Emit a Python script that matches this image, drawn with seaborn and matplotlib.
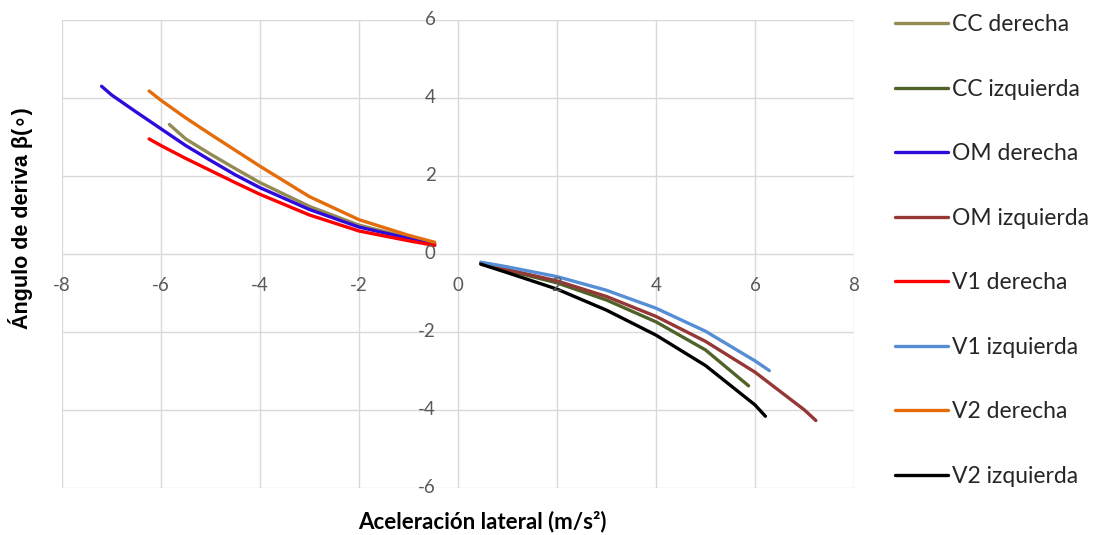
import pandas as pd
import matplotlib.pyplot as plt
import seaborn as sns
from matplotlib.lines import Line2D

# Series (lateral accel m/s^2 vs drift angle deg)
cc_der_x = [-5.83, -5.5, -5, -4.5, -4, -3, -2, -1, -0.47]
cc_der_y = [3.32, 2.95, 2.56, 2.19, 1.83, 1.22, 0.74, 0.42, 0.26]
cc_izq_x = [0.46, 1, 2, 3, 4, 5, 5.87]
cc_izq_y = [-0.24, -0.42, -0.74, -1.18, -1.74, -2.46, -3.38]
om_der_x = [-7.2, -7, -6.5, -6, -5.5, -5, -4.5, -4, -3, -2, -1, -0.47]
om_der_y = [4.30, 4.08, 3.64, 3.21, 2.78, 2.40, 2.03, 1.70, 1.14, 0.69, 0.40, 0.24]
om_izq_x = [0.46, 1, 2, 3, 4, 5, 6, 7, 7.23]
om_izq_y = [-0.23, -0.40, -0.69, -1.09, -1.60, -2.24, -3.03, -4.00, -4.27]
v1_der_x = [-6.24, -6, -5.5, -5, -4.5, -4, -3, -2, -1, -0.47]
v1_der_y = [2.95, 2.78, 2.45, 2.14, 1.83, 1.53, 1.00, 0.59, 0.34, 0.22]
v1_izq_x = [0.46, 1, 2, 3, 4, 5, 6, 6.29]
v1_izq_y = [-0.21, -0.33, -0.58, -0.93, -1.39, -1.98, -2.74, -2.99]
v2_der_x = [-6.24, -6, -5.5, -5, -4.5, -4, -3, -2, -1, -0.47]
v2_der_y = [4.18, 3.94, 3.49, 3.07, 2.66, 2.25, 1.47, 0.88, 0.48, 0.30]
v2_izq_x = [0.46, 1, 2, 3, 4, 5, 6, 6.21]
v2_izq_y = [-0.26, -0.48, -0.90, -1.44, -2.08, -2.86, -3.87, -4.16]

series = ["CC derecha", "CC izquierda", "OM derecha", "OM izquierda",
          "V1 derecha", "V1 izquierda", "V2 derecha", "V2 izquierda"]
xs = [cc_der_x, cc_izq_x, om_der_x, om_izq_x, v1_der_x, v1_izq_x, v2_der_x, v2_izq_x]
ys = [cc_der_y, cc_izq_y, om_der_y, om_izq_y, v1_der_y, v1_izq_y, v2_der_y, v2_izq_y]
colors = ["#948A54", "#4F6228", "#2E0BDB", "#953735",
          "#FF0000", "#558ED5", "#E46C0A", "#000000"]

rows = []
for name, x, y in zip(series, xs, ys):
    for a, b in zip(x, y):
        rows.append({"serie": name, "acel": a, "beta": b})
df = pd.DataFrame(rows)

sns.set_style("white")
plt.rcParams['font.family'] = ['Lato', 'DejaVu Sans']

fig = plt.figure(figsize=(11.02, 5.35), dpi=100)
ax = fig.add_axes([62/1102, 1-488/535, (854-62)/1102, (488-20)/535])

sns.lineplot(data=df, x="acel", y="beta", hue="serie", hue_order=series,
             palette=dict(zip(series, colors)), sort=False, linewidth=2.4,
             estimator=None, ax=ax, legend=False)

ax.set_xlim(-8, 8)
ax.set_ylim(-6, 6)
ax.set_xticks(range(-8, 9, 2))
ax.set_yticks(range(-6, 7, 2))
ax.grid(True, color="#d9d9d9", linewidth=1)
for s in ax.spines.values():
    s.set_visible(False)

ax.tick_params(length=0)
# tick labels sit next to the centered axes, Excel style
ax.set_xticklabels([])
ax.set_yticklabels([])
for v in range(-8, 9, 2):
    ax.text(v, -0.58, str(v), ha="center", va="top", fontsize=13.5, color="#595959")
for v in range(-6, 7, 2):
    ax.text(-0.45, v, str(v), ha="right", va="center", fontsize=13.5, color="#595959")

ax.set_xlabel("")
ax.set_ylabel("")
fig.text(482/1102, 1-522/535, "Aceleración lateral (m/s²)", ha="center", va="center",
         fontsize=16, fontweight="bold", color="#000000")
fig.text(21/1102, 1-218/535, "Ángulo de deriva β(∘)", ha="center", va="center",
         rotation=90, fontsize=15.5, fontweight="bold", color="#000000",
         family=["Liberation Sans", "DejaVu Sans"])

handles = [Line2D([], [], color=c, linewidth=2.4) for c in colors]
ax.legend(handles, series, loc="upper left", bbox_to_anchor=(886/1102, 1-5/535),
          bbox_transform=fig.transFigure, frameon=False, fontsize=16.5,
          handlelength=2.3, handletextpad=0.17, labelspacing=1.9, borderaxespad=0)

fig.savefig("out.png", dpi=100)
